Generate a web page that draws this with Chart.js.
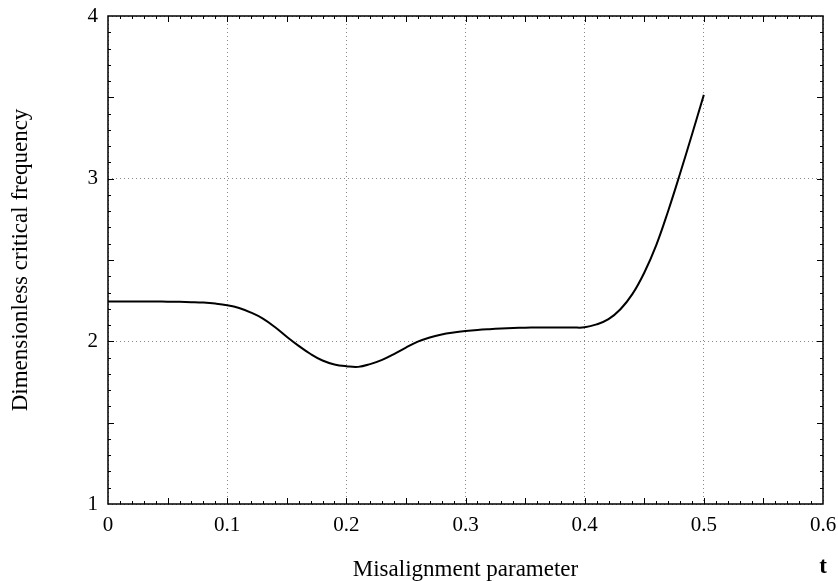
<!DOCTYPE html>
<html>
<head>
<meta charset="utf-8">
<script src="https://cdn.jsdelivr.net/npm/chart.js@4"></script>
<style>
  html, body { margin: 0; padding: 0; background: #fff; }
  #wrap { width: 838px; height: 581px; }
</style>
</head>
<body>
<div id="wrap"><canvas id="plot"></canvas></div>
<script>
// misalignment parameter t
const tValues = [0, 0.01, 0.02, 0.03, 0.04, 0.05, 0.06, 0.07, 0.08, 0.09,
    0.10, 0.11, 0.12, 0.13, 0.14, 0.15, 0.16, 0.17, 0.18, 0.19,
    0.20, 0.21, 0.22, 0.23, 0.24, 0.25, 0.26, 0.27, 0.28, 0.29,
    0.30, 0.31, 0.32, 0.33, 0.34, 0.35, 0.36, 0.37, 0.38, 0.39,
    0.40, 0.41, 0.42, 0.43, 0.44, 0.45, 0.46, 0.47, 0.48, 0.49, 0.50];
// dimensionless critical frequency
const freq = [2.245, 2.245, 2.245, 2.245, 2.245, 2.244, 2.243, 2.241, 2.238, 2.232,
    2.222, 2.205, 2.177, 2.140, 2.088, 2.028, 1.972, 1.922, 1.882, 1.858,
    1.847, 1.843, 1.860, 1.886, 1.922, 1.962, 1.998, 2.024, 2.042, 2.054,
    2.063, 2.070, 2.075, 2.079, 2.082, 2.084, 2.085, 2.085, 2.085, 2.085,
    2.086, 2.104, 2.136, 2.197, 2.290, 2.422, 2.590, 2.800, 3.030, 3.270, 3.515];

const xTicks = [0, 0.1, 0.2, 0.3, 0.4, 0.5, 0.6];
const yTicks = [1, 2, 3, 4];

const points = tValues.map((t, i) => ({ x: t, y: freq[i] }));
const serif = "'Liberation Serif', 'DejaVu Serif', serif";

// frame, inward minor ticks and the bold "t" label
const framePlugin = {
    id: "frame",
    afterDraw(chart) {
        const ctx = chart.ctx;
        const a = chart.chartArea;
        const xs = chart.scales.x;
        const ys = chart.scales.y;
        ctx.save();
        ctx.strokeStyle = "#000";
        ctx.lineWidth = 1;
        ctx.beginPath();
        for (let k = 1; k < 60; k++) {
            const px = Math.round(xs.getPixelForValue(k / 100)) + 0.5;
            const len = k % 5 === 0 ? 6 : 3;
            ctx.moveTo(px, a.bottom); ctx.lineTo(px, a.bottom - len);
            ctx.moveTo(px, a.top); ctx.lineTo(px, a.top + len);
        }
        for (let k = 1; k < 30; k++) {
            const py = Math.round(ys.getPixelForValue(1 + k / 10)) + 0.5;
            const len = k % 5 === 0 ? 6 : 3;
            ctx.moveTo(a.left, py); ctx.lineTo(a.left + len, py);
            ctx.moveTo(a.right, py); ctx.lineTo(a.right - len, py);
        }
        ctx.stroke();
        ctx.lineWidth = 1.5;
        ctx.strokeRect(a.left, a.top, a.right - a.left, a.bottom - a.top);
        ctx.fillStyle = "#000";
        ctx.font = "bold 23px " + serif;
        ctx.textAlign = "center";
        ctx.textBaseline = "alphabetic";
        ctx.fillText("t", 823, 573);
        ctx.restore();
    }
};

new Chart(document.getElementById("plot"), {
    type: "scatter",
    data: {
        datasets: [{
            label: "frequency",
            data: points,
            showLine: true,
            borderColor: "#000",
            borderWidth: 2,
            pointRadius: 0,
            tension: 0.4,
        }],
    },
    options: {
        responsive: true,
        maintainAspectRatio: false,
        animation: false,
        layout: { padding: { left: 0, right: 15, top: 16, bottom: 0 } },
        plugins: {
            legend: { display: false },
            tooltip: { enabled: false },
        },
        scales: {
            x: {
                type: "linear",
                min: 0,
                max: 0.6,
                afterBuildTicks: (s) => { s.ticks = xTicks.map((v) => ({ value: v })); },
                afterFit: (s) => { s.height = 77; s.paddingLeft = 0; s.paddingRight = 0; },
                grid: {
                    color: "#888",
                    lineWidth: 1,
                    drawTicks: false,
                },
                border: { display: false, dash: [1, 3] },
                ticks: {
                    color: "#000",
                    padding: 9,
                    maxRotation: 0,
                    font: { family: serif, size: 21 },
                    callback: (v) => String(v),
                },
                title: {
                    display: true,
                    text: "Misalignment parameter",
                    color: "#000",
                    font: { family: serif, size: 23, lineHeight: 1.0 },
                    padding: { top: 0, bottom: 0 },
                },
            },
            y: {
                type: "linear",
                min: 1,
                max: 4,
                afterBuildTicks: (s) => { s.ticks = yTicks.map((v) => ({ value: v })); },
                afterFit: (s) => { s.width = 108; s.paddingTop = 0; s.paddingBottom = 0; },
                grid: {
                    color: "#888",
                    lineWidth: 1,
                    drawTicks: false,
                },
                border: { display: false, dash: [1, 3] },
                ticks: {
                    color: "#000",
                    padding: 10,
                    font: { family: serif, size: 21 },
                },
                title: {
                    display: true,
                    text: "Dimensionless critical frequency",
                    color: "#000",
                    font: { family: serif, size: 23 },
                    padding: { top: 7, bottom: 0 },
                },
            },
        },
    },
    plugins: [framePlugin],
});
</script>
</body>
</html>
